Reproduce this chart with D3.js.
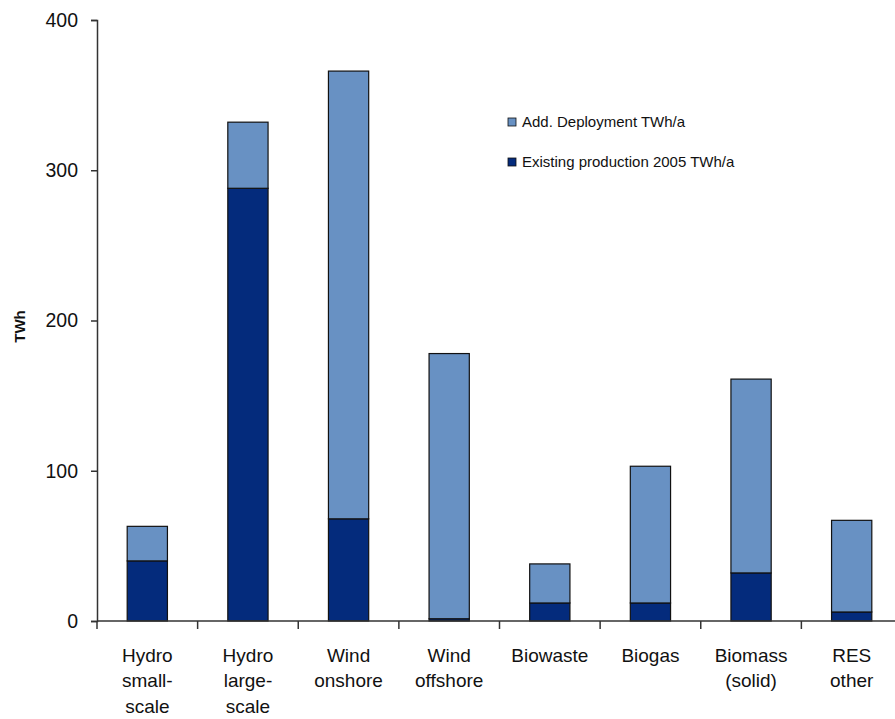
<!DOCTYPE html>
<html>
<head>
<meta charset="utf-8">
<script src="https://cdn.jsdelivr.net/npm/d3@7"></script>
<style>
  body { margin: 0; background: #fff; }
  text { font-family: "Liberation Sans", Arial, sans-serif; fill: #111; }
</style>
</head>
<body>
<div id="chart"></div>
<script>
// categories, one entry per bar (lines of the axis label)
var categories = ["Hydro small-scale", "Hydro large-scale", "Wind onshore", "Wind offshore",
  "Biowaste", "Biogas", "Biomass (solid)", "RES other"];
var labelLines = [["Hydro", "small-", "scale"], ["Hydro", "large-", "scale"], ["Wind", "onshore"],
  ["Wind", "offshore"], ["Biowaste"], ["Biogas"], ["Biomass", "(solid)"], ["RES", "other"]];

// TWh values
var existing2005 = [40, 288, 68, 1.5, 12, 12, 32, 6];
var addDeployment = [23, 44, 298, 176.5, 26, 91, 129, 61];

var yTicks = [0, 100, 200, 300, 400];
var seriesNames = ["Add. Deployment TWh/a", "Existing production 2005 TWh/a"];

var svgWidth = 895;
var svgHeight = 719;

var margin = { top: 20, right: -7, bottom: 98, left: 97 };
var width = svgWidth - margin.left - margin.right;
var height = svgHeight - margin.top - margin.bottom;

var darkBlue = "#042b7c";
var lightBlue = "#6891c3";

var svg = d3.select("#chart")
  .append("svg")
  .attr("width", svgWidth)
  .attr("height", svgHeight);

var chartGroup = svg.append("g")
  .attr("transform", `translate(${margin.left}, ${margin.top})`);

var xScale = d3.scaleBand()
  .domain(categories)
  .range([0, width])
  .paddingInner(0.6)
  .paddingOuter(0.3);

var yScale = d3.scaleLinear()
  .domain([0, 400])
  .range([height, 0]);

// stack the two series
var data = categories.map(function(c, i) {
  return { cat: c, existing: existing2005[i], add: addDeployment[i] };
});
var stacked = d3.stack().keys(["existing", "add"])(data);
var colors = { existing: darkBlue, add: lightBlue };

chartGroup.selectAll("g.series")
  .data(stacked)
  .enter()
  .append("g")
  .attr("class", "series")
  .attr("fill", d => colors[d.key])
  .selectAll("rect")
  .data(d => d)
  .enter()
  .append("rect")
  .attr("x", d => xScale(d.data.cat))
  .attr("width", xScale.bandwidth())
  .attr("y", d => yScale(d[1]))
  .attr("height", d => yScale(d[0]) - yScale(d[1]))
  .attr("stroke", "#111")
  .attr("stroke-width", 1.2);

// y axis
var leftAxis = d3.axisLeft(yScale)
  .tickValues(yTicks)
  .tickSize(6)
  .tickPadding(13)
  .tickFormat(d3.format("d"));

var yAxis = chartGroup.append("g").call(leftAxis);
yAxis.select(".domain").attr("stroke", "#333").attr("stroke-width", 1.5);
yAxis.selectAll(".tick line").attr("stroke", "#333").attr("stroke-width", 1.5);
yAxis.selectAll(".tick text").style("font-size", "19.5px").attr("fill", "#222");

// x axis line
chartGroup.append("line")
  .attr("x1", 0)
  .attr("x2", width)
  .attr("y1", height)
  .attr("y2", height)
  .attr("stroke", "#333")
  .attr("stroke-width", 1.5);

// ticks between categories
var step = xScale.step();
var gap = step - xScale.bandwidth();
chartGroup.selectAll(".xtick")
  .data(categories)
  .enter()
  .append("line")
  .attr("class", "xtick")
  .attr("x1", d => xScale(d) - gap / 2)
  .attr("x2", d => xScale(d) - gap / 2)
  .attr("y1", height)
  .attr("y2", height + 8)
  .attr("stroke", "#333")
  .attr("stroke-width", 1.5);

// category labels
var catLabels = chartGroup.selectAll(".catlabel")
  .data(categories)
  .enter()
  .append("text")
  .attr("class", "catlabel")
  .attr("text-anchor", "middle")
  .style("font-size", "19px")
  .attr("transform", d => `translate(${xScale(d) + xScale.bandwidth() / 2}, ${height + 41})`);

catLabels.selectAll("tspan")
  .data((d, i) => labelLines[i])
  .enter()
  .append("tspan")
  .attr("x", 0)
  .attr("dy", (d, j) => j === 0 ? 0 : 25.3)
  .text(d => d);

// y axis title
chartGroup.append("text")
  .attr("transform", "rotate(-90)")
  .attr("x", 0 - yScale(200) - 6)
  .attr("y", -72)
  .attr("text-anchor", "middle")
  .style("font-size", "15px")
  .style("font-weight", "bold")
  .text("TWh");

// legend
var legend = svg.append("g")
  .attr("transform", "translate(508, 118)");

var legendColors = [lightBlue, darkBlue];
legend.selectAll("rect")
  .data(seriesNames)
  .enter()
  .append("rect")
  .attr("x", 0)
  .attr("y", (d, i) => i * 40)
  .attr("width", 8)
  .attr("height", 8)
  .attr("fill", (d, i) => legendColors[i])
  .attr("stroke", "#111")
  .attr("stroke-width", 0.8);

legend.selectAll("text")
  .data(seriesNames)
  .enter()
  .append("text")
  .attr("x", 14)
  .attr("y", (d, i) => i * 40 + 9)
  .style("font-size", "15px")
  .text(d => d);
</script>
</body>
</html>
